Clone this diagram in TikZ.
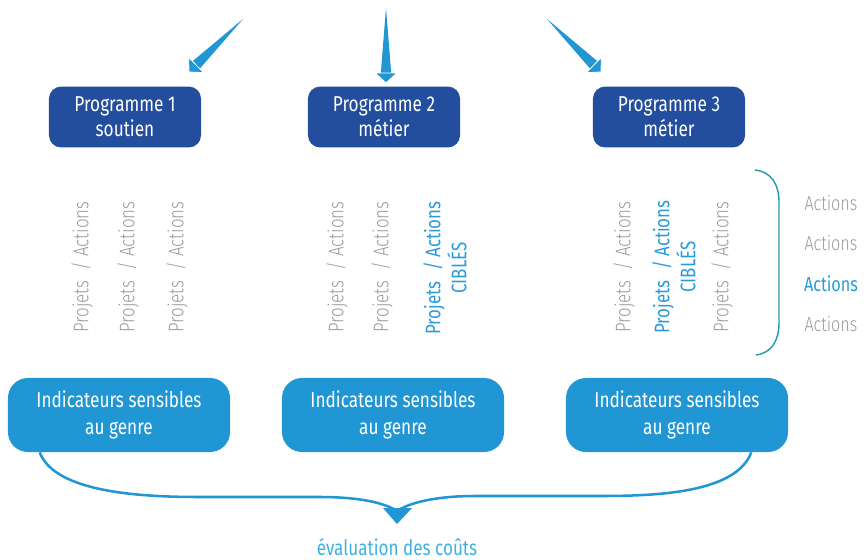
\documentclass[tikz,border=0pt]{standalone}
\usepackage{fontspec}
\setmainfont{Fira Sans}[FakeStretch=0.8]
\newfontfamily\lightfont{Fira Sans Light}[FakeStretch=0.8]
\usetikzlibrary{calc}

\definecolor{progblue}{HTML}{234E9E}
\definecolor{indblue}{HTML}{2196D4}
\definecolor{textgray}{HTML}{9B9B9B}
\definecolor{targetblue}{HTML}{2A9BDA}
\definecolor{braceteal}{HTML}{1E9BAA}
\definecolor{costblue}{HTML}{3DB1E2}

\tikzset{
  prog/.style={fill=progblue, text=white, rounded corners=0.3cm, align=center,
    minimum width=3.8cm, minimum height=1.52cm, font=\fontsize{15.3}{17.8}\selectfont},
  indic/.style={fill=indblue, text=white, rounded corners=0.5cm, align=center,
    minimum width=5.55cm, minimum height=1.85cm, font=\fontsize{15.3}{19.2}\selectfont},
  proj/.style={rotate=90, text=textgray, font=\lightfont\fontsize{15}{18}\selectfont},
  target/.style={rotate=90, text=targetblue, align=center, font=\fontsize{15}{18.5}\selectfont},
  act/.style={text=textgray, font=\lightfont\fontsize{14.4}{17}\selectfont},
  actsel/.style={text=targetblue, font=\fontsize{14.4}{17}\selectfont},
  flow/.style={draw=indblue, line width=1.8pt},
}

% tapered arrow with a square tip: #1 start, #2 tip
\newcommand\taperarrow[2]{%
  \path ($(#2)!0.25cm!(#1)$) coordinate (hb);
  \fill[indblue] (#1) -- ($(hb)!0.13cm!90:(#2)$) -- ($(hb)!0.13cm!-90:(#2)$) -- cycle;
  \filldraw[indblue, draw=white, line width=0.6pt] (#2) -- ($(hb)!0.27cm!90:(#2)$)
    -- ($(hb)!0.27cm!-90:(#2)$) -- cycle;
}

\begin{document}
\begin{tikzpicture}[x=0.025cm, y=-0.025cm]
\useasboundingbox (0,0) rectangle (864,560);

% programmes
\node[prog] (prog1) at (125,117) {Programme 1\\soutien};
\node[prog] (prog2) at (384,117) {Programme 2\\métier};
\node[prog] (prog3) at (669,117) {Programme 3\\métier};

% arrows coming down from the top
\coordinate (src1) at (243,19);
\coordinate (src2) at (386,8);
\coordinate (src3) at (547,19);
\coordinate (tip1) at (189,72);
\coordinate (tip2) at (386,83);
\coordinate (tip3) at (601,72);
\taperarrow{src1}{tip1}
\taperarrow{src2}{tip2}
\taperarrow{src3}{tip3}

% projects / actions
\node[proj] (p1a) at (82,267) {Projets\enspace/ Actions};
\node[proj] (p1b) at (128,267) {Projets\enspace/ Actions};
\node[proj] (p1c) at (177,267) {Projets\enspace/ Actions};

\node[proj] (p2a) at (337,267) {Projets\enspace/ Actions};
\node[proj] (p2b) at (382,267) {Projets\enspace/ Actions};
\node[target] (p2c) at (445,268) {Projets\enspace/ Actions\\CIBLÉS};

\node[proj] (p3a) at (624,267) {Projets\enspace/ Actions};
\node[target] (p3b) at (674,267) {Projets\enspace/ Actions\\CIBLÉS};
\node[proj] (p3c) at (722,267) {Projets\enspace/ Actions};

% bracket and actions
\draw[braceteal, line width=1pt] (755,170) .. controls (772,172) and (779,185) .. (779,202)
  -- (779,323) .. controls (779,340) and (772,353) .. (756,355);
\node[act] (a1) at (831,203) {Actions};
\node[act] (a2) at (831,243) {Actions};
\node[actsel] (a3) at (831,284) {Actions};
\node[act] (a4) at (831,324) {Actions};

% indicators
\node[indic] (ind1) at (119,415) {Indicateurs sensibles\\au genre};
\node[indic] (ind2) at (393,415) {Indicateurs sensibles\\au genre};
\node[indic] (ind3) at (677,415) {Indicateurs sensibles\\au genre};

% merge towards the costs
\coordinate (merge) at (397,511);
\draw[flow] (ind1.south west) ++(32,0) .. controls +(15,40) and +(-60,0) .. (200,497)
  -- (320,497) .. controls (360,497) and (385,503) .. (merge);
\draw[flow] (ind3.south east) ++(-37,0) .. controls +(-15,40) and +(60,0) .. (600,496)
  -- (475,496) .. controls (435,496) and (409,503) .. (merge);
\fill[indblue] (383,508) -- (412,508) -- (397,524) -- cycle;

\node[text=costblue, anchor=base, inner sep=0pt, font=\fontsize{15.2}{18}\selectfont] (cost)
  at (397,555) {évaluation des coûts};
\end{tikzpicture}
\end{document}
